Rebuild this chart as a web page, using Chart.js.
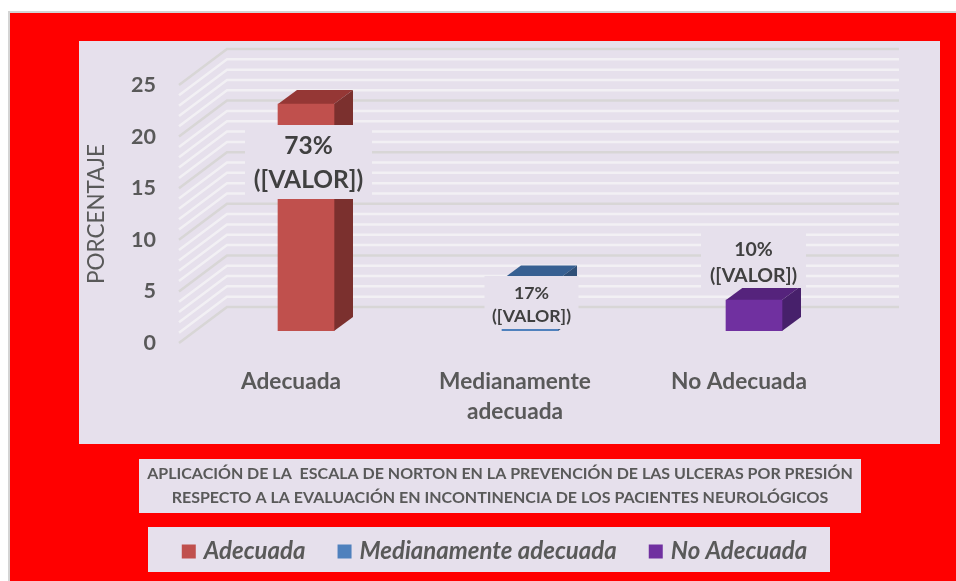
<!DOCTYPE html>
<html><head><meta charset="utf-8">
<style>html,body{margin:0;padding:0;background:#fff}canvas{display:block}</style>
<script src="https://cdn.jsdelivr.net/npm/chart.js@4"></script>
</head><body><div style="width:956px;height:581px"><canvas id="c" width="956" height="581"></canvas></div>
<script>
const categories = [['Adecuada'], ['Medianamente', 'adecuada'], ['No Adecuada']];
const seriesNames = ['Adecuada', 'Medianamente adecuada', 'No Adecuada'];
const adecuada = [22, null, null];
const medianamente = [null, 5, null];
const noAdecuada = [null, null, 3];
const percentLabels = ['73%', '17%', '10%'];
const titleLines = ['APLICACIÓN DE LA  ESCALA DE NORTON EN LA PREVENCIÓN DE LAS ULCERAS POR PRESIÓN', 'RESPECTO A LA EVALUACIÓN EN INCONTINENCIA DE LOS PACIENTES NEUROLÓGICOS'];
const axisTitle = 'PORCENTAJE';

const PANEL = '#E6E0EC', TEXT = '#595959', FONT = 'Lato';
const frontColors = ['#C0504D', '#4F81BD', '#7030A0'];
const topColors = ['#953735', '#376092', '#55237C'];
const sideColors = ['#7B302E', '#2F5078', '#47206B'];
const WALL = {dx: 48, dy: -36};
const BAR = {dx: 15, dy: -12, depthX: 19, depthY: -14};
const labelBoxes = [
  {dx: -61, top: 125, bottom: 199, w: 127, size: 24.5, l1: 146, l2: 180},
  {dx: -45.5, top: 276, bottom: 329, w: 94, size: 17.7, l1: 293, l2: 316},
  {dx: -53, top: 233, bottom: 288, w: 105, size: 19.5, l1: 250, l2: 276}
];

const scene = {
  id: 'scene',
  beforeDraw(chart) {
    const c = chart.ctx;
    c.save();
    c.fillStyle = '#fff'; c.fillRect(0, 0, 956, 581);
    c.fillStyle = '#D4D4D4'; c.fillRect(8, 11, 948, 570);
    c.fillStyle = '#FF0000'; c.fillRect(10, 13, 946, 568);
    c.fillStyle = PANEL;
    c.fillRect(79, 41, 861, 403);
    c.fillRect(139, 459, 722, 54);
    c.fillRect(148, 527, 682, 45);
    const y = chart.scales.y, a = chart.chartArea;
    for (const t of y.ticks) {
      const p = y.getPixelForValue(t.value);
      const major = t.value % 5 === 0;
      c.strokeStyle = major ? '#D8D6D6' : '#F2F0F4';
      c.lineWidth = 2.5;
      c.beginPath();
      c.moveTo(a.left, p);
      c.lineTo(a.left + WALL.dx, p + WALL.dy);
      c.lineTo(a.right + WALL.dx, p + WALL.dy);
      c.stroke();
    }
    c.restore();
  },
  beforeDatasetsDraw(chart) {
    const c = chart.ctx;
    chart.data.datasets.forEach((ds, i) => {
      const el = chart.getDatasetMeta(i).data[i];
      const hw = el.width / 2, l = el.x - hw + BAR.dx, r = el.x + hw + BAR.dx;
      const t = el.y + BAR.dy, b = el.base + BAR.dy;
      c.fillStyle = topColors[i];
      c.beginPath(); c.moveTo(l, t); c.lineTo(r, t); c.lineTo(r + BAR.depthX, t + BAR.depthY); c.lineTo(l + BAR.depthX, t + BAR.depthY); c.closePath(); c.fill();
      c.fillStyle = sideColors[i];
      c.beginPath(); c.moveTo(r, t); c.lineTo(r + BAR.depthX, t + BAR.depthY); c.lineTo(r + BAR.depthX, b + BAR.depthY); c.lineTo(r, b); c.closePath(); c.fill();
    });
    c.save();
    c.translate(BAR.dx, BAR.dy);
  },
  afterDatasetsDraw(chart) {
    const c = chart.ctx;
    c.restore();
    chart.data.datasets.forEach((ds, i) => {
      const el = chart.getDatasetMeta(i).data[i];
      const box = labelBoxes[i];
      const cx = el.x + BAR.dx;
      c.fillStyle = PANEL;
      c.fillRect(cx + box.dx, box.top, box.w, box.bottom - box.top);
      c.fillStyle = '#404040';
      c.font = `bold ${box.size}px ${FONT}`;
      c.textAlign = 'center'; c.textBaseline = 'middle';
      const tx = cx + box.dx + box.w / 2;
      c.fillText(percentLabels[i], tx, box.l1);
      c.fillText('([VALOR])', tx, box.l2);
    });
  },
  afterLayout(chart) {
    const ti = chart.titleBlock, le = chart.legend;
    ti.left = 139; ti.right = 861; ti.top = 459; ti.bottom = 513; ti.width = 722; ti.height = 54;
    const h = le.height;
    le.left = 148; le.right = 845; le.top = 503.5; le.bottom = le.top + h;
  }
};

const mk = (i, data) => ({label: seriesNames[i], data, backgroundColor: frontColors[i], borderWidth: 0, barThickness: 56, grouped: false});

new Chart(document.getElementById('c'), {
  type: 'bar',
  data: {labels: categories, datasets: [mk(0, adecuada), mk(1, medianamente), mk(2, noAdecuada)]},
  plugins: [scene],
  options: {
    responsive: false, animation: false,
    layout: {padding: {left: 80, right: 105, top: 85, bottom: 24}},
    plugins: {
      tooltip: {enabled: false},
      title: {
        display: true, position: 'bottom', text: titleLines, color: TEXT,
        font: {family: FONT, size: 16, weight: 'bold', lineHeight: 1.5},
        padding: {top: 3, bottom: 3}
      },
      legend: {
        display: true, position: 'bottom',
        labels: {
          color: TEXT, boxWidth: 6, boxHeight: 6, padding: 36,
          font: {family: FONT, size: 24, style: 'italic', weight: 'bold'},
          generateLabels(chart) {
            return Chart.defaults.plugins.legend.labels.generateLabels(chart).map((it, i) => ({...it, strokeStyle: frontColors[i], lineWidth: 8}));
          }
        }
      }
    },
    scales: {
      x: {
        grid: {display: false}, border: {display: false},
        afterFit(s) { s.height = 90; },
        ticks: {color: TEXT, padding: 16, maxRotation: 0, autoSkip: false, font: {family: FONT, size: 22.7, weight: 'bold', lineHeight: 1.32}}
      },
      y: {
        min: 0, max: 25,
        grid: {display: false}, border: {display: false},
        afterFit(s) { s.width = 99; },
        title: {display: true, text: axisTitle, color: TEXT, font: {family: FONT, size: 22.5}, padding: {top: 3, bottom: 0}},
        ticks: {
          stepSize: 1, autoSkip: false, color: TEXT, padding: 15,
          font: {family: FONT, size: 21.5, weight: 'bold'},
          callback: v => v % 5 === 0 ? String(v) : ''
        }
      }
    }
  }
});
</script></body></html>
